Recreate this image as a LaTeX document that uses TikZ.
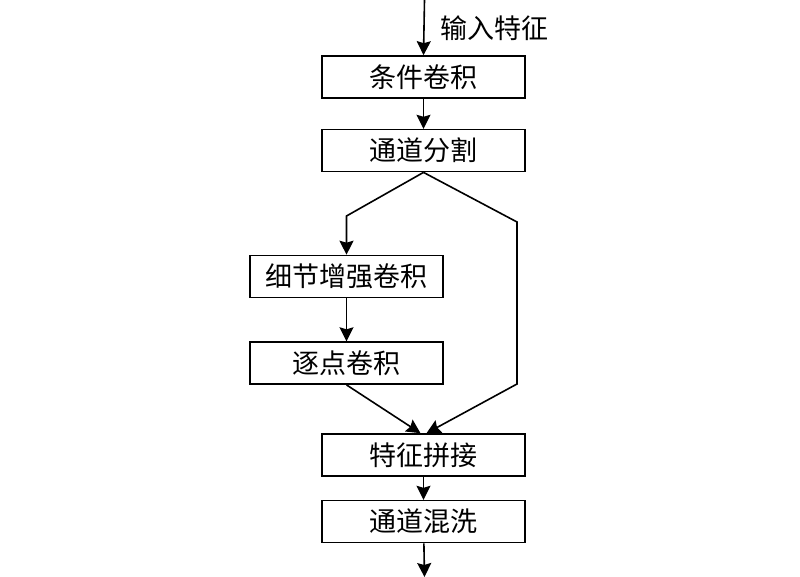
\documentclass[tikz,border=0pt]{standalone}
\usepackage{fontspec}
\newfontfamily\cjk{Noto Sans CJK SC}
\usetikzlibrary{arrows.meta,positioning}

\begin{document}
\begin{tikzpicture}[x=1pt,y=-1pt,>={Stealth[length=14pt,width=14pt,inset=2pt]},
    line width=1.6pt,node distance=30pt,
    block/.style={draw,rectangle,minimum width=203pt,minimum height=42pt,
      inner sep=0pt,font=\cjk\fontsize{27}{32}\selectfont},
    narrow/.style={block,minimum width=193pt}]
    \useasboundingbox (0,0) rectangle (800,577);

    \node[block] (cond) at (423.5,77) {条件卷积};
    \node[block] [below=30pt of cond] (split) {通道分割};
    \node[narrow] (detail) at (346.5,276.5) {细节增强卷积};
    \node[narrow] [below=43pt of detail] (point) {逐点卷积};
    \node[block] (concat) at (423.5,455) {特征拼接};
    \node[block] [below=23pt of concat] (shuffle) {通道混洗};

    \node[anchor=west,inner sep=0pt,font=\cjk\fontsize{27}{32}\selectfont] (inlabel) at (439.5,28) {输入特征};

    \coordinate (in) at (424.5,0);
    \coordinate (out) at (424.5,577);
    \coordinate (lbend) at (346.5,216);
    \coordinate (rbend) at (517,222);
    \coordinate (rlow) at (517,384);

    \draw[->] (in) -- (cond.north);
    \draw[->] (cond) -- (split);
    \draw[->] (split.south) -- (lbend) -- (detail.north);
    \draw[->] (detail) -- (point);
    \draw[->] (point.south) -- ([xshift=-3pt]concat.north);
    \draw[->] (split.south) -- (rbend) -- (rlow) -- ([xshift=3pt]concat.north);
    \draw[->] (concat) -- (shuffle);
    \draw[->] (shuffle) -- (out);
  \end{tikzpicture}
\end{document}
